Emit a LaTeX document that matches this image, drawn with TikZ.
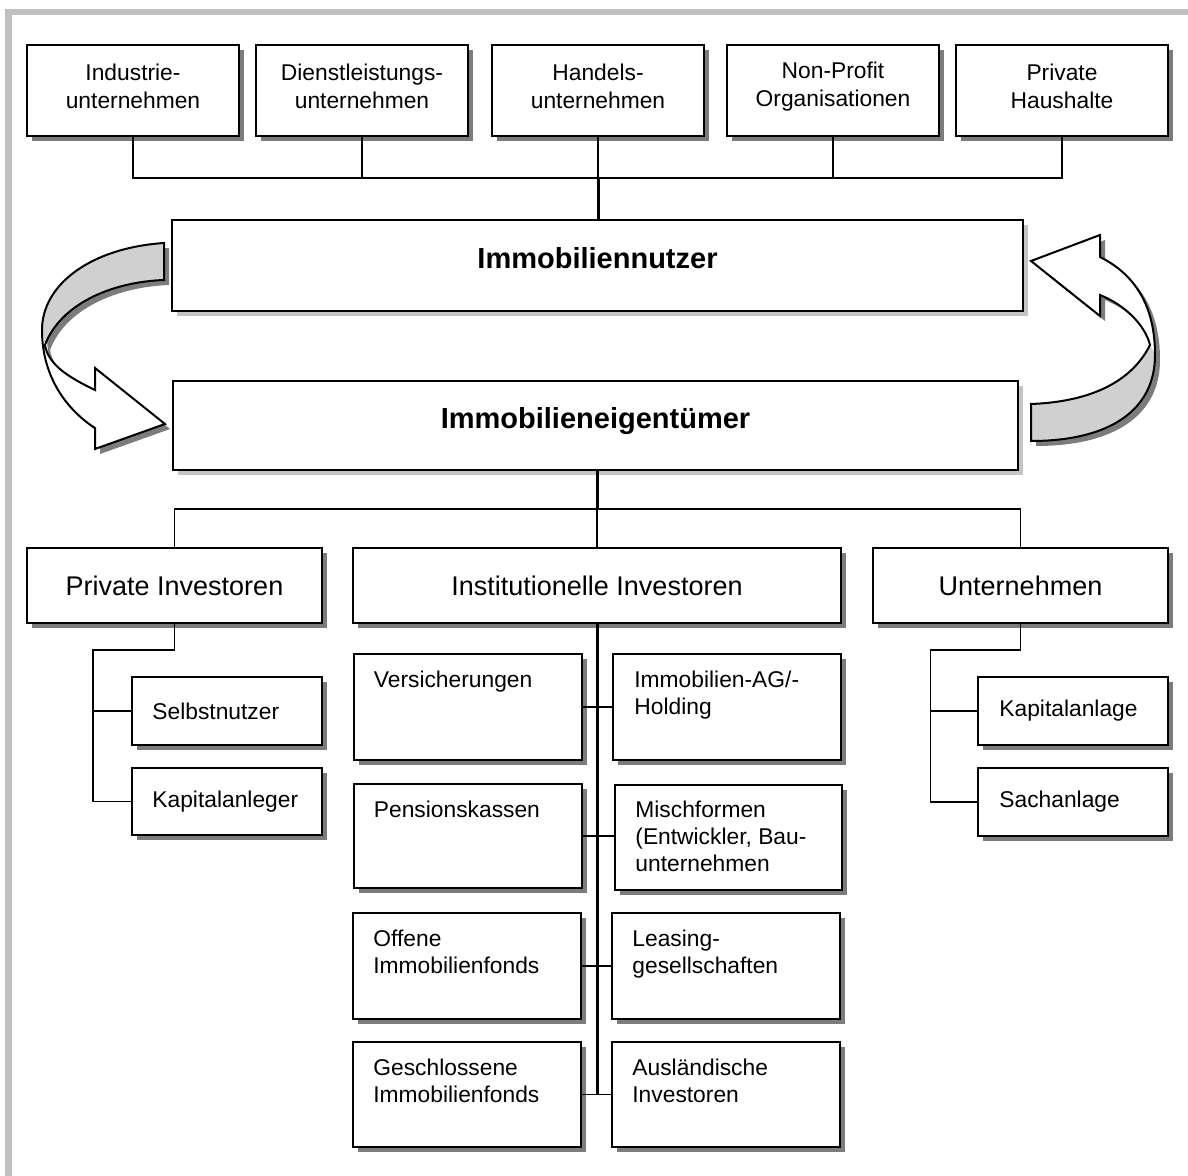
\documentclass[tikz,border=0pt]{standalone}
\usepackage{fontspec}
\setmainfont{Liberation Sans}
\usetikzlibrary{shadows}
\definecolor{framegray}{HTML}{C0C0C0}
\definecolor{shad}{HTML}{7C7C7C}
\definecolor{lshad}{HTML}{C4C4C4}
\definecolor{band}{HTML}{D0D0D0}
\begin{document}
\begin{tikzpicture}[x=0.5pt,y=-0.5pt,
  box/.style={draw=black, line width=1pt, fill=white, inner sep=0pt, align=center,
    drop shadow={shadow xshift=2.5pt, shadow yshift=-2.5pt, fill=shad, opacity=1}},
  mainbox/.style={draw=black, line width=1pt, fill=white, inner sep=0pt,
    drop shadow={shadow xshift=2.5pt, shadow yshift=-2.5pt, fill=lshad, opacity=1}},
  maintxt/.style={inner sep=0pt, font=\fontsize{14.5}{17}\selectfont\bfseries},
  toptxt/.style={inner sep=0pt, align=center, font=\fontsize{11.4}{14}\selectfont},
  bigtxt/.style={font=\fontsize{13.5}{16}\selectfont},
  conn/.style={line width=0.85pt},
  trunk/.style={line width=1.5pt},
  lbl/.style={anchor=north west, inner sep=0pt, align=left, font=\fontsize{11.4}{13.5}\selectfont},
  wlbl/.style={anchor=west, inner sep=0pt, font=\fontsize{11.4}{13.5}\selectfont},
  arrowline/.style={draw=black, line width=1pt, line join=miter},
]
\useasboundingbox (0,0) rectangle (1188,1176);
\fill[white] (0,0) rectangle (1188,1176);
% frame
\draw[framegray, line width=3.4pt] (8.5,1176) -- (8.5,12) -- (1188,12);

% top row
\node[box, minimum width=106pt, minimum height=45.5pt] (t1) at (133,90.5) {};
\node[toptxt] at ([yshift=2pt]t1.center) {Industrie-\\unternehmen};
\node[box, minimum width=106pt, minimum height=45.5pt] (t2) at (362,90.5) {};
\node[toptxt] at ([yshift=2pt]t2.center) {Dienstleistungs-\\unternehmen};
\node[box, minimum width=106pt, minimum height=45.5pt] (t3) at (598,90.5) {};
\node[toptxt] at ([yshift=2pt]t3.center) {Handels-\\unternehmen};
\node[box, minimum width=106pt, minimum height=45.5pt] (t4) at (833,90.5) {};
\node[toptxt] at ([yshift=2pt]t4.center) {Non-Profit\\Organisationen};
\node[box, minimum width=106pt, minimum height=45.5pt] (t5) at (1062,90.5) {};
\node[toptxt] at ([yshift=2pt]t5.center) {Private\\Haushalte};

% main boxes
\node[mainbox, minimum width=425.5pt, minimum height=45.5pt] (nutzer) at (597.5,265.5) {};
\node[maintxt] at ([yshift=3.5pt]nutzer.center) {Immobiliennutzer};
\node[mainbox, minimum width=422.5pt, minimum height=44.5pt] (eig) at (595.5,425.5) {};
\node[maintxt] at ([yshift=2pt]eig.center) {Immobilieneigentümer};

% top connectors
\coordinate (hub1) at (598,178);
\draw[conn] (t1.south) |- (hub1);
\draw[conn] (t5.south) |- (hub1);
\draw[conn] (t2.south) -- (t2.south |- hub1);
\draw[conn] (t3.south) -- (hub1);
\draw[conn] (t4.south) -- (t4.south |- hub1);
\draw[trunk] (hub1) -- (nutzer.north -| hub1);

% second level
\node[box, bigtxt, minimum width=147.5pt, minimum height=37.5pt] (priv) at (174.5,585.5) {Private Investoren};
\node[box, bigtxt, minimum width=244pt, minimum height=37.5pt] (inst) at (597,585.5) {Institutionelle Investoren};
\node[box, bigtxt, minimum width=147.5pt, minimum height=37.5pt] (unt) at (1020.5,585.5) {Unternehmen};

\coordinate (hub2) at (597,509);
\draw[trunk] (eig.south -| hub2) -- (hub2);
\draw[conn] (priv.north) |- (hub2);
\draw[conn] (unt.north) |- (hub2);
\draw[conn] (hub2) -- (inst.north);

% private subtree
\node[box, minimum width=95pt, minimum height=34pt] (sel) at (227,711) {};
\node[wlbl] at ([xshift=10.5pt]sel.west) {Selbstnutzer};
\node[box, minimum width=95pt, minimum height=33.5pt] (kap) at (227,801.5) {};
\node[wlbl] at ([xshift=10.5pt]kap.west) {Kapitalanleger};
\coordinate (pj) at (93,650);
\draw[conn] (priv.south) |- (pj) |- (kap.west);
\draw[conn] (pj |- sel.west) -- (sel.west);

% unternehmen subtree
\node[box, minimum width=95pt, minimum height=34pt] (kanl) at (1073,711) {};
\node[wlbl] at ([xshift=11pt]kanl.west) {Kapitalanlage};
\node[box, minimum width=95pt, minimum height=34pt] (sach) at (1073,802) {};
\node[wlbl] at ([xshift=11pt]sach.west) {Sachanlage};
\coordinate (uj) at (930.5,650);
\draw[conn] (unt.south) |- (uj) |- (sach.west);
\draw[conn] (uj |- kanl.west) -- (kanl.west);

% institutional
\node[box, minimum width=114pt, minimum height=53pt] (v1) at (467.5,707) {};
\node[lbl] at ([xshift=10.5pt,yshift=-9pt]v1.north west) {Versicherungen};
\node[box, minimum width=114pt, minimum height=52pt] (v2) at (467.5,836) {};
\node[lbl] at ([xshift=10.5pt,yshift=-9pt]v2.north west) {Pensionskassen};
\node[box, minimum width=114pt, minimum height=53pt] (v3) at (467,966) {};
\node[lbl] at ([xshift=10.5pt,yshift=-9pt]v3.north west) {Offene\\Immobilienfonds};
\node[box, minimum width=114pt, minimum height=52.5pt] (v4) at (467,1094.5) {};
\node[lbl] at ([xshift=10.5pt,yshift=-9pt]v4.north west) {Geschlossene\\Immobilienfonds};

\node[box, minimum width=114pt, minimum height=53pt] (i1) at (727,707) {};
\node[lbl] at ([xshift=11pt,yshift=-9pt]i1.north west) {Immobilien-AG/-\\Holding};
\node[box, minimum width=113.5pt, minimum height=52.5pt] (i2) at (728.5,837.5) {};
\node[lbl] at ([xshift=10.5pt,yshift=-8.5pt]i2.north west) {Mischformen\\(Entwickler, Bau-\\unternehmen};
\node[box, minimum width=114pt, minimum height=53pt] (i3) at (726,966) {};
\node[lbl] at ([xshift=10.5pt,yshift=-9pt]i3.north west) {Leasing-\\gesellschaften};
\node[box, minimum width=114pt, minimum height=52.5pt] (i4) at (726,1094.5) {};
\node[lbl] at ([xshift=10.5pt,yshift=-9pt]i4.north west) {Ausländische\\Investoren};

\draw[trunk] (inst.south) -- (inst.south |- v4.east);
\draw[conn] (v1.east) -- (i1.west);
\draw[conn] (v2.east) -- (i2.west |- v2.east);
\draw[conn] (v3.east) -- (i3.west);
\draw[conn] (v4.east) -- (i4.west);

% left curved arrow
\begin{scope}[shift={(5,5)}]
\fill[shad] (164,243) .. controls (90,248) and (42,285) .. (42,330)
  .. controls (42,380) and (70,412) .. (95,428) -- (95,449) -- (165,424) -- (95,368) -- (95,390)
  .. controls (70,378) and (48,365) .. (45,345) .. controls (60,305) and (110,282) .. (164,280) -- cycle;
\end{scope}
\fill[white] (164,243) .. controls (90,248) and (42,285) .. (42,330)
  .. controls (42,380) and (70,412) .. (95,428) -- (95,449) -- (165,424) -- (95,368) -- (95,390)
  .. controls (70,378) and (48,365) .. (45,345) .. controls (60,305) and (110,282) .. (164,280) -- cycle;
\fill[band] (164,243) .. controls (90,248) and (42,285) .. (42,330) -- (45,345)
  .. controls (60,305) and (110,282) .. (164,280) -- cycle;
\draw[arrowline] (164,243) .. controls (90,248) and (42,285) .. (42,330)
  .. controls (42,380) and (70,412) .. (95,428) -- (95,449) -- (165,424) -- (95,368) -- (95,390)
  .. controls (70,378) and (48,365) .. (45,345) .. controls (60,305) and (110,282) .. (164,280) -- cycle;

% right curved arrow
\begin{scope}[shift={(5,5)}]
\fill[shad] (1031,404) -- (1031,441) .. controls (1110,441) and (1155,410) .. (1155,355)
  .. controls (1155,300) and (1130,272) .. (1100,257) -- (1100,235) -- (1031,261) -- (1100,316) -- (1100,295)
  .. controls (1125,305) and (1145,325) .. (1150,345) .. controls (1130,385) and (1085,402) .. (1031,404) -- cycle;
\end{scope}
\fill[white] (1031,404) -- (1031,441) .. controls (1110,441) and (1155,410) .. (1155,355)
  .. controls (1155,300) and (1130,272) .. (1100,257) -- (1100,235) -- (1031,261) -- (1100,316) -- (1100,295)
  .. controls (1125,305) and (1145,325) .. (1150,345) .. controls (1130,385) and (1085,402) .. (1031,404) -- cycle;
\fill[band] (1031,404) -- (1031,441) .. controls (1110,441) and (1155,410) .. (1155,355) -- (1150,345)
  .. controls (1130,385) and (1085,402) .. (1031,404) -- cycle;
\draw[arrowline] (1031,404) -- (1031,441) .. controls (1110,441) and (1155,410) .. (1155,355)
  .. controls (1155,300) and (1130,272) .. (1100,257) -- (1100,235) -- (1031,261) -- (1100,316) -- (1100,295)
  .. controls (1125,305) and (1145,325) .. (1150,345) .. controls (1130,385) and (1085,402) .. (1031,404) -- cycle;
\end{tikzpicture}
\end{document}
